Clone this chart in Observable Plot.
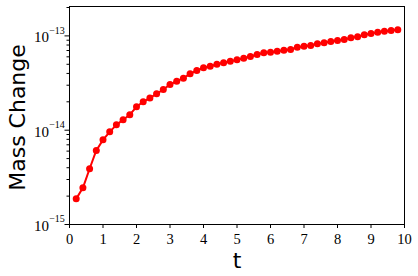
<!DOCTYPE html>
<html>
<head>
<meta charset="utf-8">
<script src="https://cdn.jsdelivr.net/npm/d3@7"></script>
<script src="https://cdn.jsdelivr.net/npm/@observablehq/plot@0.6"></script>
<style>
  html, body { margin: 0; padding: 0; background: #fff; }
  svg { overflow: visible; }
  svg text.serif-label { font-family: "Liberation Serif", "Times New Roman", Times, "DejaVu Serif", serif !important; }
  svg text.sans-label { font-family: "DejaVu Sans", sans-serif !important; }
</style>
</head>
<body>
<div id="chart"></div>
<script>
const tValues = [0.2, 0.4, 0.6, 0.8, 1.0, 1.2, 1.4, 1.6, 1.8, 2.0,
  2.2, 2.4, 2.6, 2.8, 3.0, 3.2, 3.4, 3.6, 3.8, 4.0,
  4.2, 4.4, 4.6, 4.8, 5.0, 5.2, 5.4, 5.6, 5.8, 6.0,
  6.2, 6.4, 6.6, 6.8, 7.0, 7.2, 7.4, 7.6, 7.8, 8.0,
  8.2, 8.4, 8.6, 8.8, 9.0, 9.2, 9.4, 9.6, 9.8];
const massChange = [1.87e-15, 2.45e-15, 3.9e-15, 6.1e-15, 7.9e-15, 9.6e-15, 1.14e-14, 1.29e-14, 1.46e-14, 1.77e-14,
  2.0e-14, 2.2e-14, 2.43e-14, 2.7e-14, 3.05e-14, 3.31e-14, 3.56e-14, 3.96e-14, 4.3e-14, 4.59e-14,
  4.77e-14, 5.0e-14, 5.19e-14, 5.39e-14, 5.58e-14, 5.8e-14, 6.05e-14, 6.35e-14, 6.62e-14, 6.72e-14,
  6.89e-14, 7.05e-14, 7.18e-14, 7.59e-14, 7.78e-14, 7.91e-14, 8.24e-14, 8.45e-14, 8.72e-14, 8.93e-14,
  9.16e-14, 9.55e-14, 9.78e-14, 1.03e-13, 1.06e-13, 1.09e-13, 1.12e-13, 1.14e-13, 1.16e-13];
const xTicks = [0, 1, 2, 3, 4, 5, 6, 7, 8, 9, 10];
const yMajorTicks = [1e-15, 1e-14, 1e-13];
const yExponents = ["\u221215", "\u221214", "\u221213"];
const yMinorTicks = [2e-15, 3e-15, 4e-15, 5e-15, 6e-15, 7e-15, 8e-15, 9e-15,
  2e-14, 3e-14, 4e-14, 5e-14, 6e-14, 7e-14, 8e-14, 9e-14, 2e-13];
const xLabel = "t";
const yLabel = "Mass Change";

const data = tValues.map((t, i) => ({t, m: massChange[i]}));
const serif = "Liberation Serif";
const sans = "DejaVu Sans";

const chart = Plot.plot({
  width: 418,
  height: 276,
  marginLeft: 69,
  marginRight: 14,
  marginTop: 6,
  marginBottom: 52,
  style: {background: "#fff", color: "black"},
  x: {domain: [0, 10], axis: null},
  y: {type: "log", domain: [1e-15, 2.05e-13], axis: null},
  marks: [
    Plot.axisX({ticks: xTicks, tickSize: 4, tickPadding: 5, fontSize: 14.5, fontFamily: serif, label: null, tickFormat: d => String(d)}),
    Plot.axisY({ticks: yMinorTicks, tickSize: 2.5, tickFormat: () => "", label: null}),
    Plot.axisY({ticks: yMajorTicks, tickSize: 4.5, tickFormat: () => "", label: null}),
    Plot.text(yMajorTicks, {y: d => d, frameAnchor: "left", text: () => "10", textAnchor: "end", lineAnchor: "bottom", dx: -20.5, dy: 6.4, fontSize: 15, fontFamily: serif, fill: "black"}),
    Plot.text(yMajorTicks, {y: d => d, frameAnchor: "left", text: (d, i) => yExponents[i], textAnchor: "start", lineAnchor: "bottom", dx: -20.3, dy: -2.3, fontSize: 10, fontFamily: serif, fill: "black"}),
    Plot.text([xLabel], {frameAnchor: "bottom", text: d => d, textAnchor: "middle", lineAnchor: "bottom", dy: 43, fontSize: 22, fontFamily: sans, fill: "black"}),
    Plot.text([yLabel], {frameAnchor: "left", text: d => d, rotate: -90, textAnchor: "middle", lineAnchor: "bottom", dx: -45, dy: 2, fontSize: 22, fontFamily: sans, fill: "black"}),
    Plot.line(data, {x: "t", y: "m", stroke: "red", strokeWidth: 2}),
    Plot.dot(data, {x: "t", y: "m", fill: "red", r: 3.5}),
    Plot.frame({stroke: "black", strokeWidth: 1})
  ]
});
d3.select(chart).selectAll("text").each(function() {
  const s = this.textContent;
  this.setAttribute("class", (s === xLabel || s === yLabel) ? "sans-label" : "serif-label");
});
document.getElementById("chart").appendChild(chart);
</script>
</body>
</html>
